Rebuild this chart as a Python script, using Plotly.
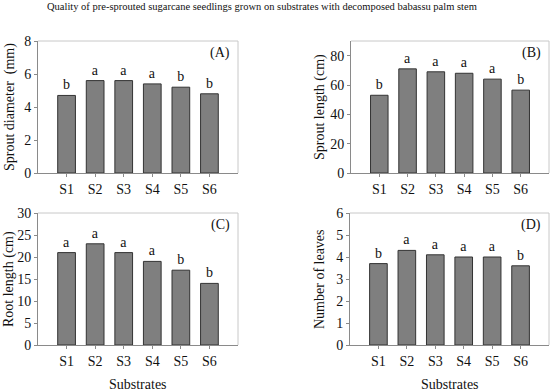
import plotly.graph_objects as go

categories = ["S1", "S2", "S3", "S4", "S5", "S6"]
sprout_diameter = [4.7, 5.6, 5.6, 5.4, 5.2, 4.8]
sprout_diameter_letters = ["b", "a", "a", "a", "b", "b"]
sprout_length = [53, 71, 69, 68, 64, 56.5]
sprout_length_letters = ["b", "a", "a", "a", "a", "b"]
root_length = [21, 23, 21, 19, 17, 14]
root_length_letters = ["a", "a", "a", "a", "b", "b"]
num_leaves = [3.7, 4.3, 4.1, 4.0, 4.0, 3.6]
num_leaves_letters = ["b", "a", "a", "a", "a", "b"]

W, H = 550, 391
FONT = "Liberation Serif"

panels = [
    dict(vals=sprout_diameter, letters=sprout_diameter_letters, label="(A)",
         ytitle="Sprout diameter  (mm)", yrange=[0, 8], dtick=2,
         px=(38, 238), py=(41, 173), tx=10),
    dict(vals=sprout_length, letters=sprout_length_letters, label="(B)",
         ytitle="Sprout length (cm)", yrange=[0, 90], dtick=20,
         px=(351, 549), py=(41, 173), tx=320),
    dict(vals=root_length, letters=root_length_letters, label="(C)",
         ytitle="Root length (cm)", yrange=[0, 30], dtick=5,
         px=(38, 238), py=(213, 345), tx=9),
    dict(vals=num_leaves, letters=num_leaves_letters, label="(D)",
         ytitle="Number of leaves", yrange=[0, 6], dtick=1,
         px=(350, 549), py=(213, 345), tx=319),
]

fig = go.Figure()
annotations = []
shapes = []
for i, p in enumerate(panels):
    n = "" if i == 0 else str(i + 1)
    xa, ya = "x" + n, "y" + n
    fig.add_trace(go.Bar(
        x=list(range(len(categories))), y=p["vals"], xaxis=xa, yaxis=ya,
        width=0.62, marker=dict(color="#7f7f7f", line=dict(color="#333333", width=1)),
        text=p["letters"], textposition="outside", cliponaxis=False,
        textfont=dict(family=FONT, size=14, color="#111"), showlegend=False,
        hoverinfo="skip",
    ))
    xd = [p["px"][0] / W, p["px"][1] / W]
    yd = [1 - p["py"][1] / H, 1 - p["py"][0] / H]
    fig.layout["xaxis" + n] = dict(
        domain=xd, anchor=ya, range=[-1, 6], tickmode="array",
        tickvals=list(range(len(categories))), ticktext=categories,
        showline=True, linecolor="#8a8a8a", linewidth=1, ticks="outside",
        ticklen=3, tickcolor="#8a8a8a", showgrid=False, zeroline=False,
        automargin=False,
        tickfont=dict(family=FONT, size=14, color="#111"),
    )
    fig.layout["yaxis" + n] = dict(
        domain=yd, anchor=xa, range=p["yrange"], dtick=p["dtick"],
        showline=True, linecolor="#8a8a8a", linewidth=1, ticks="outside",
        ticklen=3, tickcolor="#8a8a8a", showgrid=False, zeroline=False,
        automargin=False,
        tickfont=dict(family=FONT, size=14, color="#111"),
    )
    shapes.append(dict(type="line", xref=xa + " domain", yref=ya + " domain",
                       x0=0, x1=1, y0=1, y1=1, line=dict(color="#c8c8c8", width=1)))
    shapes.append(dict(type="line", xref=xa + " domain", yref=ya + " domain",
                       x0=1, x1=1, y0=0, y1=1, line=dict(color="#c8c8c8", width=1)))
    annotations.append(dict(text=p["label"], xref=xa + " domain", yref="paper",
                            x=0.97, y=1 - (p["py"][0] + 12) / H, xanchor="right",
                            yanchor="middle", showarrow=False,
                            font=dict(family=FONT, size=14, color="#111")))
    annotations.append(dict(text=p["ytitle"], xref="paper", yref="paper",
                            x=p["tx"] / W, y=1 - (sum(p["py"]) / 2) / H,
                            textangle=-90, showarrow=False, xanchor="center",
                            yanchor="middle",
                            font=dict(family=FONT, size=14, color="#111")))

for sx in (138, 450):
    annotations.append(dict(text="Substrates", xref="paper", yref="paper",
                            x=sx / W, y=1 - 384 / H, showarrow=False,
                            xanchor="center", yanchor="middle",
                            font=dict(family=FONT, size=14, color="#111")))
annotations.append(dict(
    text="Quality of pre-sprouted sugarcane seedlings grown on substrates with decomposed babassu palm stem",
    xref="paper", yref="paper", x=262 / W, y=1 - 6 / H, showarrow=False,
    xanchor="center", yanchor="middle",
    font=dict(family=FONT, size=10.5, color="#111")))

fig.update_layout(
    width=W, height=H, margin=dict(l=0, r=0, t=0, b=0, pad=0, autoexpand=False),
    paper_bgcolor="white", plot_bgcolor="white",
    annotations=annotations, shapes=shapes, bargap=0.3,
)
fig.write_html(
    "out.html",
    config={"displayModeBar": False},
    post_script="document.body.style.margin='0';document.body.style.overflow='hidden';",
)
